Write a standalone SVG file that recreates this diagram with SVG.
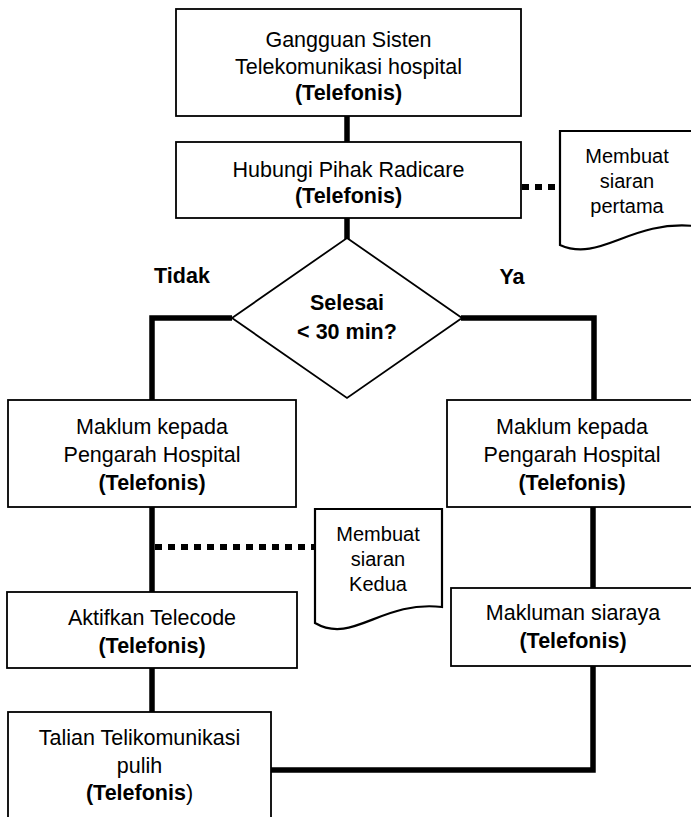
<svg xmlns="http://www.w3.org/2000/svg" width="691" height="817" viewBox="0 0 691 817">
<style>
.box{fill:#fff;stroke:#000;stroke-width:1.8}
.doc{fill:#fff;stroke:#000;stroke-width:2.2}
.conn{fill:none;stroke:#000;stroke-width:5.5}
.dot{fill:none;stroke:#000;stroke-width:6;stroke-dasharray:7 6}
.t{font-family:"Liberation Sans",Arial,sans-serif;font-size:21.5px;text-anchor:middle;fill:#000}
.b{font-weight:bold}
.s{font-size:20px}
</style>
<rect width="691" height="817" fill="#fff"/>
<g id="connectors">
<line class="conn" x1="347" y1="115" x2="347" y2="142"/>
<line class="conn" x1="347" y1="217" x2="347" y2="239"/>
<polyline class="conn" points="232,318 152,318 152,401"/>
<polyline class="conn" points="461,318 594,318 594,401"/>
<line class="conn" x1="152" y1="506" x2="152" y2="592"/>
<line class="conn" x1="152" y1="667" x2="152" y2="712"/>
<line class="conn" x1="593" y1="506" x2="593" y2="589"/>
<polyline class="conn" points="593,665 593,770 270,770"/>
<line class="dot" x1="522" y1="187" x2="560" y2="187"/>
<line class="dot" x1="155" y1="547" x2="315" y2="547"/>
</g>
<g id="n1">
<rect class="box" x="176" y="9" width="345" height="107"/>
<text class="t" x="348.5" y="47">Gangguan Sisten</text>
<text class="t" x="348.5" y="74">Telekomunikasi hospital</text>
<text class="t b" x="348.5" y="100">(Telefonis)</text>
</g>
<g id="n2">
<rect class="box" x="176" y="142" width="345" height="76"/>
<text class="t" x="348.5" y="177">Hubungi Pihak Radicare</text>
<text class="t b" x="348.5" y="203">(Telefonis)</text>
</g>
<g id="doc1">
<path class="doc" d="M560,131 H694 V226 C630,220 600,263 560,245 Z"/>
<text class="t s" x="627" y="163">Membuat</text>
<text class="t s" x="627" y="188">siaran</text>
<text class="t s" x="627" y="213">pertama</text>
</g>
<g id="decision">
<polygon class="box" points="347,238 462,318 347,398 232,318"/>
<text class="t b" x="347" y="310">Selesai</text>
<text class="t b" x="347" y="339">&lt; 30 min?</text>
</g>
<text class="t b" x="182" y="283">Tidak</text>
<text class="t b" x="512" y="284">Ya</text>
<g id="n3">
<rect class="box" x="8" y="400" width="288" height="107"/>
<text class="t" x="152" y="434">Maklum kepada</text>
<text class="t" x="152" y="462">Pengarah Hospital</text>
<text class="t b" x="152" y="490">(Telefonis)</text>
</g>
<g id="n4">
<rect class="box" x="447" y="400" width="260" height="107"/>
<text class="t" x="572" y="434">Maklum kepada</text>
<text class="t" x="572" y="462">Pengarah Hospital</text>
<text class="t b" x="572" y="490">(Telefonis)</text>
</g>
<g id="doc2">
<path class="doc" d="M315,509 H442 V607 C381,600 353,645 315,623 Z"/>
<text class="t s" x="378" y="541">Membuat</text>
<text class="t s" x="378" y="566">siaran</text>
<text class="t s" x="378" y="591">Kedua</text>
</g>
<g id="n5">
<rect class="box" x="7" y="592" width="290" height="76"/>
<text class="t" x="152" y="625">Aktifkan Telecode</text>
<text class="t b" x="152" y="653">(Telefonis)</text>
</g>
<g id="n6">
<rect class="box" x="451" y="588" width="260" height="78"/>
<text class="t" x="573" y="620">Makluman siaraya</text>
<text class="t b" x="573" y="648">(Telefonis)</text>
</g>
<g id="n7">
<rect class="box" x="8" y="712" width="263" height="130"/>
<text class="t" x="139.5" y="745">Talian Telikomunikasi</text>
<text class="t" x="139.5" y="773">pulih</text>
<text class="t" x="139.5" y="800"><tspan class="b">(Telefonis</tspan>)</text>
</g>
</svg>
